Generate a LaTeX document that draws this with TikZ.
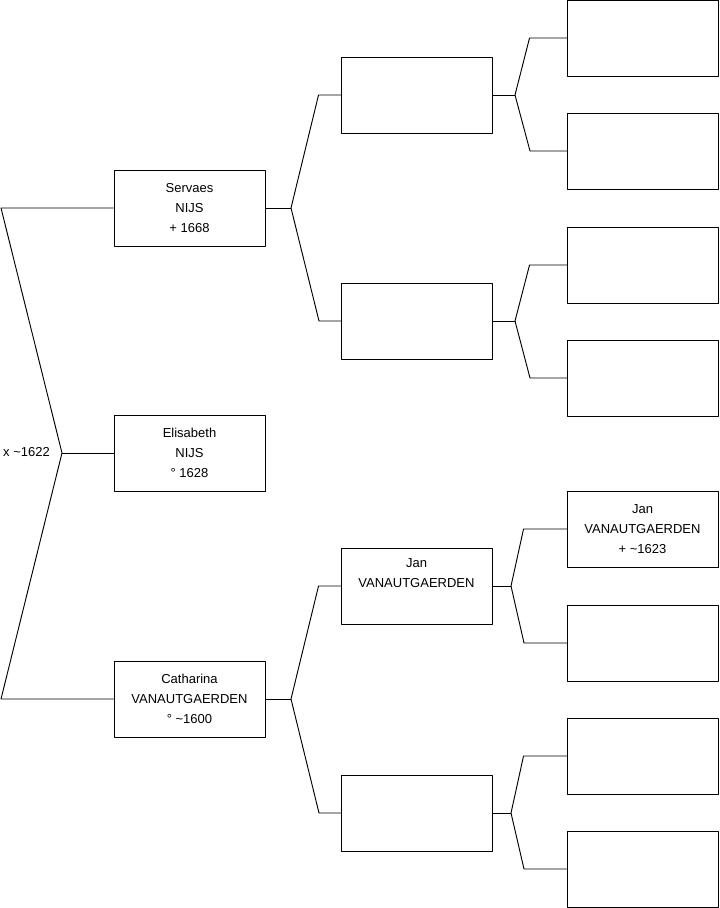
\documentclass[tikz,border=0pt]{standalone}
\usepackage{fontspec}
\setmainfont{Liberation Sans}
\tikzset{
	person/.style={draw, line width=0.8pt, minimum width=4.53cm, minimum height=2.28cm,
		align=center, inner sep=0pt, font=\fontsize{11.1}{17}\selectfont},
	link/.style={line width=0.8pt}
}

\begin{document}
\begin{tikzpicture}[line cap=round,line join=round,x=0.03cm,y=-0.03cm]
			\useasboundingbox (0,0) rectangle (719,908);
			% generation 1
			\node[person] (servaes) at (189.5,208) {Servaes\\NIJS\\+ 1668};
			\node[person] (elisabeth) at (189.5,453) {Elisabeth\\NIJS\\\textdegree\ 1628};
			\node[person] (catharina) at (189.5,699) {Catharina\\VANAUTGAERDEN\\\textdegree\ \textasciitilde1600};
			\node[anchor=west, inner sep=0pt, font=\fontsize{11.1}{17}\selectfont] (marriage) at (3,452) {x \textasciitilde1622};
			% generation 2
			\node[person] (sf) at (416.5,95) {};
			\node[person] (sm) at (416.5,321) {};
			\node[person] (jan) at (416.5,586) {Jan\\VANAUTGAERDEN\\\strut};
			\node[person] (cm) at (416.5,813) {};
			% generation 3
			\node[person] (sff) at (642.5,38) {};
			\node[person] (sfm) at (642.5,151) {};
			\node[person] (smf) at (642.5,265) {};
			\node[person] (smm) at (642.5,378) {};
			\node[person] (jf) at (642.5,529) {Jan\\VANAUTGAERDEN\\+ \textasciitilde1623};
			\node[person] (jm) at (642.5,643) {};
			\node[person] (cmf) at (642.5,756) {};
			\node[person] (cmm) at (642.5,869) {};
			% joints
			\coordinate (m0) at (62,453);
			\coordinate (m1) at (1,208);
			\coordinate (m2) at (1,699);
			\coordinate (s0) at (291,208);
			\coordinate (c0) at (291,699);
			\coordinate (sf0) at (515,95);
			\coordinate (sm0) at (515,321);
			\coordinate (jan0) at (511,586);
			\coordinate (cm0) at (511,813);
			% parents of Elisabeth
			\draw[link] (servaes.west) -- (m1) -- (m0) -- (m2) -- (catharina.west);
			\draw[link] (m0) -- (elisabeth.west);
			% parents of Servaes and Catharina
			\draw[link] (servaes.east) -- (s0);
			\draw[link] (sf.west) -- ++(-22,0) -- (s0) -- (319,321) -- (sm.west);
			\draw[link] (catharina.east) -- (c0);
			\draw[link] (jan.west) -- ++(-22,0) -- (c0) -- (319,813) -- (cm.west);
			% third generation
			\draw[link] (sf.east) -- (sf0);
			\draw[link] (sff.west) -- ++(-37,0) -- (sf0) -- (530,151) -- (sfm.west);
			\draw[link] (sm.east) -- (sm0);
			\draw[link] (smf.west) -- ++(-37,0) -- (sm0) -- (530,378) -- (smm.west);
			\draw[link] (jan.east) -- (jan0);
			\draw[link] (jf.west) -- ++(-43,0) -- (jan0) -- (524,643) -- (jm.west);
			\draw[link] (cm.east) -- (cm0);
			\draw[link] (cmf.west) -- ++(-43,0) -- (cm0) -- (524,869) -- (cmm.west);
		\end{tikzpicture}
\end{document}
